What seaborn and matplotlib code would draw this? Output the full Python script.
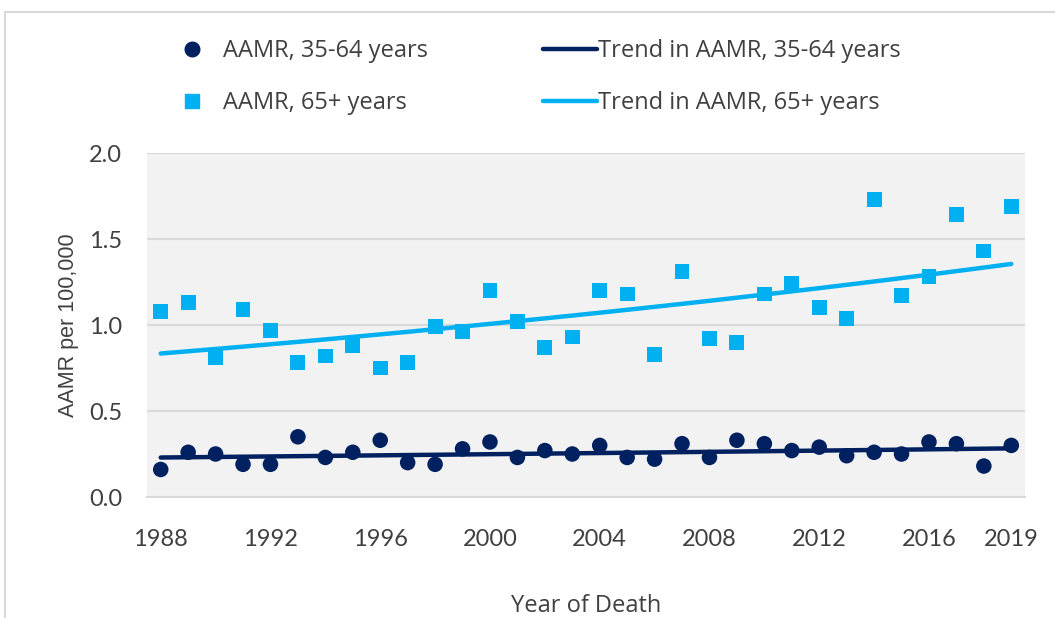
import numpy as np
import pandas as pd
import matplotlib
matplotlib.use("Agg")
import matplotlib.pyplot as plt
from matplotlib.lines import Line2D
import seaborn as sns

# Données
years = list(range(1988, 2020))
aamr_35_64 = [0.16, 0.26, 0.25, 0.19, 0.19, 0.35, 0.23, 0.26, 0.33, 0.20,
              0.19, 0.28, 0.32, 0.23, 0.27, 0.25, 0.30, 0.23, 0.22, 0.31,
              0.23, 0.33, 0.31, 0.27, 0.29, 0.24, 0.26, 0.25, 0.32, 0.31,
              0.18, 0.30]
aamr_65_plus = [1.08, 1.13, 0.81, 1.09, 0.97, 0.78, 0.82, 0.88, 0.75, 0.78,
                0.99, 0.96, 1.20, 1.02, 0.87, 0.93, 1.20, 1.18, 0.83, 1.31,
                0.92, 0.90, 1.18, 1.24, 1.10, 1.04, 1.73, 1.17, 1.28, 1.64,
                1.43, 1.69]
xtick_labels = [1988, 1992, 1996, 2000, 2004, 2008, 2012, 2016, 2019]
yticks = [0.0, 0.5, 1.0, 1.5, 2.0]

dark = "#002060"
light = "#00b0f0"
txt = "#404040"
grid = "#d9d9d9"

df = pd.DataFrame({"year": years, "young": aamr_35_64, "old": aamr_65_plus})

# Tendance log-linéaire (type Joinpoint)
for col in ["young", "old"]:
    b, a = np.polyfit(df["year"], np.log(df[col]), 1)
    df["trend_" + col] = np.exp(a + b * df["year"])

sns.set_theme(style="white")
plt.rcParams["font.family"] = ["Lato", "DejaVu Sans"]

fig = plt.figure(figsize=(10.55, 6.18), dpi=100)
ax = fig.add_axes([147 / 1055, 1 - 497 / 618, 878 / 1055, 344 / 618])
ax.set_facecolor("#f2f2f2")

sns.lineplot(data=df, x="year", y="trend_old", color=light, linewidth=3.2,
             solid_capstyle="round", ax=ax, zorder=2)
sns.lineplot(data=df, x="year", y="trend_young", color=dark, linewidth=3.2,
             solid_capstyle="round", ax=ax, zorder=2)
sns.scatterplot(data=df, x="year", y="old", marker="s", s=115, color=light,
                edgecolor="none", ax=ax, zorder=3)
sns.scatterplot(data=df, x="year", y="young", marker="o", s=125, color=dark,
                edgecolor="none", ax=ax, zorder=3)

ax.set_xlim(1987.5, 2019.5)
ax.set_ylim(0, 2.0)
ax.set_yticks(yticks)
ax.set_yticklabels([f"{v:.1f}" for v in yticks])
ax.set_xticks(xtick_labels)
ax.set_xticklabels([str(y) for y in xtick_labels])
ax.set_xticks(np.arange(1987.5, 2020, 1), minor=True)
ax.tick_params(axis="x", which="major", length=0, pad=23, labelsize=17, labelcolor=txt)
ax.tick_params(axis="x", which="minor", length=7, width=1, color=grid, direction="out")
ax.tick_params(axis="y", length=0, pad=18, labelsize=17, labelcolor=txt)

for v in yticks[1:]:
    ax.axhline(v, color=grid, linewidth=1.5, zorder=1)
for s in ["top", "right", "left"]:
    ax.spines[s].set_visible(False)
ax.spines["bottom"].set_color(grid)
ax.spines["bottom"].set_linewidth(1.5)

ax.set_xlabel("Year of Death", fontsize=17, color=txt, labelpad=32,
              family=["Open Sans", "DejaVu Sans"])
ax.set_ylabel("AAMR per 100,000", fontsize=15.5, color=txt, labelpad=7,
              family=["Liberation Sans", "DejaVu Sans"])

# Légende en deux colonnes
h1 = [Line2D([], [], marker="o", linestyle="none", color=dark, markersize=10.5),
      Line2D([], [], marker="s", linestyle="none", color=light, markersize=9.5)]
h2 = [Line2D([], [], color=dark, linewidth=3.2),
      Line2D([], [], color=light, linewidth=3.2)]
common = dict(frameon=False, loc="center left", labelcolor=txt,
              prop={"family": ["Open Sans", "DejaVu Sans"], "size": 17},
              borderpad=0, borderaxespad=0, handlelength=2.3, labelspacing=1.2)
fig.legend(h1, ["AAMR, 35-64 years", "AAMR, 65+ years"],
           bbox_to_anchor=(165 / 1055, 1 - 77 / 618), handletextpad=0.15, **common)
fig.legend(h2, ["Trend in AAMR, 35-64 years", "Trend in AAMR, 65+ years"],
           bbox_to_anchor=(543 / 1055, 1 - 77 / 618), handletextpad=0.05, **common)

# Cadre du graphique
fig.add_artist(Line2D([5 / 1055, 1], [1 - 12 / 618, 1 - 12 / 618], color=grid,
                      linewidth=1.5, transform=fig.transFigure))
fig.add_artist(Line2D([5 / 1055, 5 / 1055], [0, 1 - 12 / 618], color=grid,
                      linewidth=1.5, transform=fig.transFigure))

fig.savefig("out.png", dpi=100)
